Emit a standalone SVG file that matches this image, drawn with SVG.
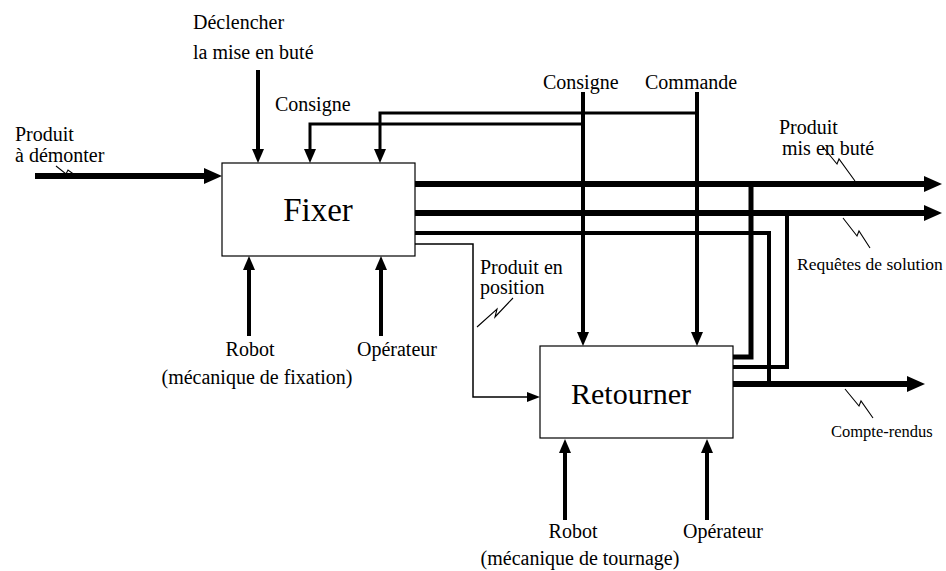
<svg xmlns="http://www.w3.org/2000/svg" width="946" height="571" viewBox="0 0 946 571" font-family="'Liberation Serif', Tinos, 'DejaVu Serif', 'Times New Roman', serif">
<style>
  text { font-family: "Liberation Serif", Tinos, "DejaVu Serif", "Times New Roman", serif; fill: #000; font-size: 20px; }
  .fx { font-size: 33px; }
  .big { font-size: 30px; }
  .small { font-size: 16.5px; }
  .mid { text-anchor: middle; }
  .box { fill: #fff; stroke: #000; stroke-width: 1.2; }
  .thick { fill: none; stroke: #000; stroke-width: 6; }
  .med { fill: none; stroke: #000; stroke-width: 4; }
  .ctl { fill: none; stroke: #000; stroke-width: 3; }
  .thin { fill: none; stroke: #000; stroke-width: 1.5; }
  .sq { fill: none; stroke: #000; stroke-width: 1.1; }
</style>
<defs>
  <marker id="aBig" markerUnits="userSpaceOnUse" viewBox="0 -8 18 16" markerWidth="18" markerHeight="16" refX="0" refY="0" orient="auto">
    <path d="M0,-8 L18,0 L0,8 z" fill="#000"/>
  </marker>
  <marker id="aMed" markerUnits="userSpaceOnUse" viewBox="0 -6 14 12" markerWidth="14" markerHeight="12" refX="0" refY="0" orient="auto">
    <path d="M0,-6 L14,0 L0,6 z" fill="#000"/>
  </marker>
  <marker id="aSmall" markerUnits="userSpaceOnUse" viewBox="0 -5 13 10" markerWidth="13" markerHeight="10" refX="0" refY="0" orient="auto">
    <path d="M0,-5 L13,0 L0,5 z" fill="#000"/>
  </marker>
</defs>

<g id="connectors">
  <path class="thick" d="M35,176 H204" marker-end="url(#aBig)"/>
  <path class="med" d="M258,70 V149" marker-end="url(#aMed)"/>
  <path class="ctl" d="M583,124 H310 V149" marker-end="url(#aMed)"/>
  <path class="ctl" d="M697,113 H380 V149" marker-end="url(#aMed)"/>
  <path class="med" d="M583,92 V332" marker-end="url(#aMed)"/>
  <path class="med" d="M697,92 V332" marker-end="url(#aMed)"/>
  <path class="med" d="M249,336 V270" marker-end="url(#aMed)"/>
  <path class="med" d="M381,336 V270" marker-end="url(#aMed)"/>
  <path class="med" d="M565,520 V453" marker-end="url(#aMed)"/>
  <path class="med" d="M707,520 V453" marker-end="url(#aMed)"/>
  <path class="thick" d="M415,184 H924" marker-end="url(#aBig)"/>
  <path class="thick" d="M415,213 H924" marker-end="url(#aBig)"/>
  <path class="med" d="M415,233 H769 V384"/>
  <path class="thin" d="M415,244 H473 V397 H527" marker-end="url(#aSmall)"/>
  <path class="med" d="M733,357 H751 V184" style="stroke-width:5"/>
  <path class="med" d="M733,367 H787 V213"/>
  <path class="thick" d="M733,384 H907" marker-end="url(#aBig)"/>
  <path class="sq" d="M56,166 L66,174 L68,170 L79,178"/>
  <path class="sq" d="M477,327 L497,309 L495,317 L513,298"/>
  <path class="sq" d="M823,147 L837,164 L839,159 L855,181"/>
  <path class="sq" d="M843,218 L857,236 L859,231 L870,248"/>
  <path class="sq" d="M845,389 L859,406 L861,401 L873,418"/>
</g>

<g id="fixer">
  <rect class="box" x="222" y="163" width="193" height="93"/>
  <text class="fx mid" x="318" y="221">Fixer</text>
</g>

<g id="retourner">
  <rect class="box" x="540" y="346" width="193" height="92"/>
  <text class="big mid" x="631" y="404">Retourner</text>
</g>

<g id="labels">
  <text x="15" y="141">Produit</text>
  <text x="15" y="162">à démonter</text>
  <text x="193" y="29">Déclencher</text>
  <text x="193" y="59">la mise en buté</text>
  <text x="275" y="111">Consigne</text>
  <text x="543" y="89">Consigne</text>
  <text x="645" y="89">Commande</text>
  <text class="mid" x="250" y="356">Robot</text>
  <text class="mid" x="257" y="384">(mécanique de fixation)</text>
  <text class="mid" x="397" y="356">Opérateur</text>
  <text x="480" y="274">Produit en</text>
  <text x="480" y="294">position</text>
  <text class="mid" x="573" y="538">Robot</text>
  <text class="mid" x="580" y="565">(mécanique de tournage)</text>
  <text class="mid" x="723" y="538">Opérateur</text>
  <text x="779" y="134">Produit</text>
  <text x="782" y="155">mis en buté</text>
  <text x="797" y="270" style="font-size:17.5px">Requêtes de solution</text>
  <text class="small" x="831" y="437">Compte-rendus</text>
</g>
</svg>
